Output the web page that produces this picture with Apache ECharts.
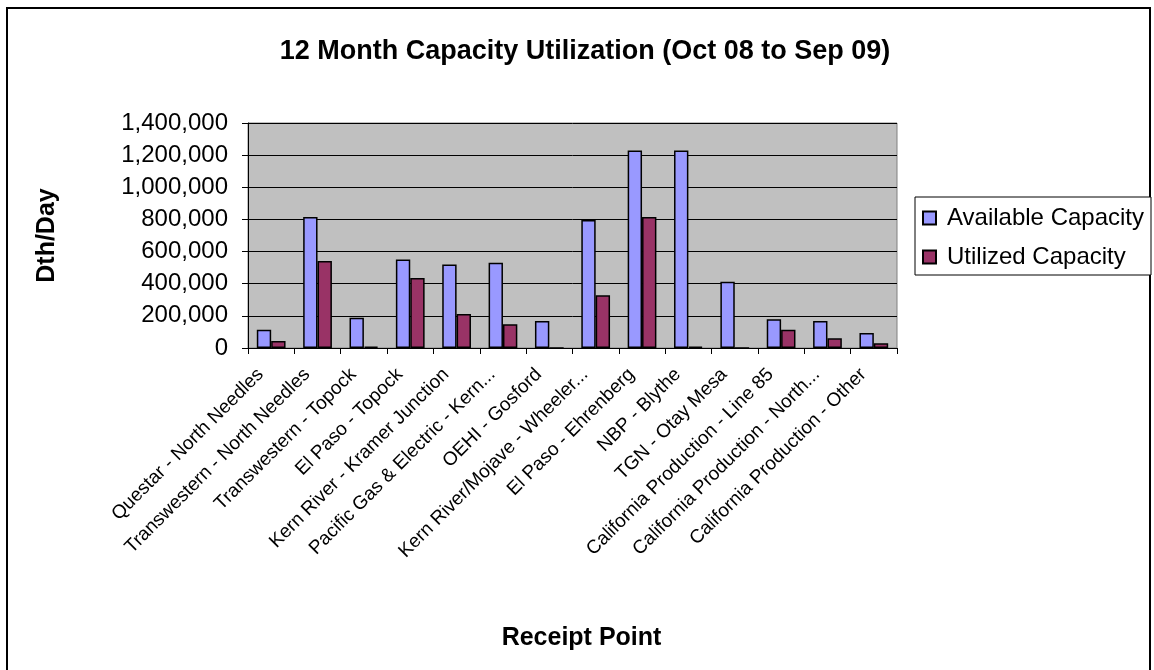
<!DOCTYPE html>
<html>
<head>
<meta charset="utf-8">
<script src="https://cdn.jsdelivr.net/npm/echarts@6/dist/echarts.min.js"></script>
<style>
    html, body { margin: 0; padding: 0; background: #fff; }
    #chart { width: 1154px; height: 670px; }
</style>
</head>
<body>
<div id="chart"></div>
<script>
( () => {
    const receiptPoints = [
        'Questar - North Needles',
        'Transwestern - North Needles',
        'Transwestern - Topock',
        'El Paso - Topock',
        'Kern River - Kramer Junction',
        'Pacific Gas & Electric - Kern...',
        'OEHI - Gosford',
        'Kern River/Mojave - Wheeler...',
        'El Paso - Ehrenberg',
        'NBP - Blythe',
        'TGN - Otay Mesa',
        'California Production - Line 85',
        'California Production - North...',
        'California Production - Other'
    ];
    const availableCapacity = [
        114000, 815000, 189000, 551000, 520000, 530000, 168000,
        797000, 1229000, 1229000, 412000, 179000, 168000, 94000
    ];
    const utilizedCapacity = [
        44000, 541000, 8000, 435000, 212000, 148000, 0,
        328000, 815000, 8000, 0, 114000, 60000, 29000
    ];
    const yTicks = { min: 0, max: 1400000, interval: 200000 };

    const chart = echarts.init( document.getElementById( 'chart' ), null, { renderer: 'canvas' } );

    const font = 'Arial, "Liberation Sans", sans-serif';

    chart.setOption( {
        backgroundColor: '#ffffff',
        animation: false,
        title: {
            text: '12 Month Capacity Utilization (Oct 08 to Sep 09)',
            left: 580,
            textAlign: 'center',
            top: 33,
            textStyle: {
                fontFamily: font,
                fontSize: 27,
                fontWeight: 'bold',
                color: '#000',
            },
        },
        graphic: [
            {
                type: 'rect',
                shape: { x: 7, y: 8, width: 1143, height: 690 },
                style: { fill: 'none', stroke: '#000', lineWidth: 2 },
                silent: true,
            },
        ],
        legend: {
            orient: 'vertical',
            left: 915,
            top: 197,
            padding: [ 9, 7, 6, 7 ],
            itemGap: 15,
            itemWidth: 13,
            itemHeight: 13,
            icon: 'rect',
            borderColor: '#000',
            borderWidth: 1,
            backgroundColor: '#fff',
            textStyle: {
                fontFamily: font,
                fontSize: 24,
                color: '#000',
                padding: [ 0, 0, 0, 6 ],
            },
            data: [ 'Available Capacity', 'Utilized Capacity' ],
        },
        grid: {
            left: 248,
            right: 257,
            top: 123,
            bottom: 322,
            show: true,
            backgroundColor: '#C0C0C0',
            borderColor: '#808080',
            borderWidth: 1,
        },
        xAxis: {
            type: 'category',
            data: receiptPoints,
            name: 'Receipt Point',
            nameLocation: 'middle',
            nameGap: 278,
            nameTextStyle: {
                fontFamily: font,
                fontSize: 25,
                fontWeight: 'bold',
                color: '#000',
                padding: [ 0, 0, 0, 18 ],
            },
            axisLine: { lineStyle: { color: '#000', width: 1 } },
            axisTick: { show: true, length: 6, lineStyle: { color: '#000' } },
            axisLabel: {
                interval: 0,
                rotate: 45,
                margin: 13,
                padding: [ 0, 15, 0, 0 ],
                fontFamily: font,
                fontSize: 19,
                color: '#000',
            },
        },
        yAxis: {
            type: 'value',
            min: yTicks.min,
            max: yTicks.max,
            interval: yTicks.interval,
            name: 'Dth/Day',
            nameLocation: 'middle',
            nameGap: 188,
            nameRotate: 90,
            nameTextStyle: {
                fontFamily: font,
                fontSize: 25,
                fontWeight: 'bold',
                color: '#000',
            },
            axisLine: { show: true, lineStyle: { color: '#000', width: 1 } },
            axisTick: { show: true, inside: false, length: 6, lineStyle: { color: '#000' } },
            axisLabel: {
                margin: 20,
                fontFamily: font,
                fontSize: 24,
                color: '#000',
                formatter: ( v ) => v.toLocaleString( 'en-US' ),
            },
            splitLine: { show: true, lineStyle: { color: '#000', width: 1 } },
        },
        series: [
            {
                name: 'Available Capacity',
                type: 'bar',
                data: availableCapacity,
                barGap: '0%',
                barCategoryGap: '38%',
                itemStyle: { color: '#9999FF', borderColor: '#000', borderWidth: 1.5 },
            },
            {
                name: 'Utilized Capacity',
                type: 'bar',
                data: utilizedCapacity,
                barGap: '0%',
                barCategoryGap: '38%',
                itemStyle: { color: '#993366', borderColor: '#000', borderWidth: 1.5 },
            },
        ],
    } );
} ) ();
</script>
</body>
</html>
